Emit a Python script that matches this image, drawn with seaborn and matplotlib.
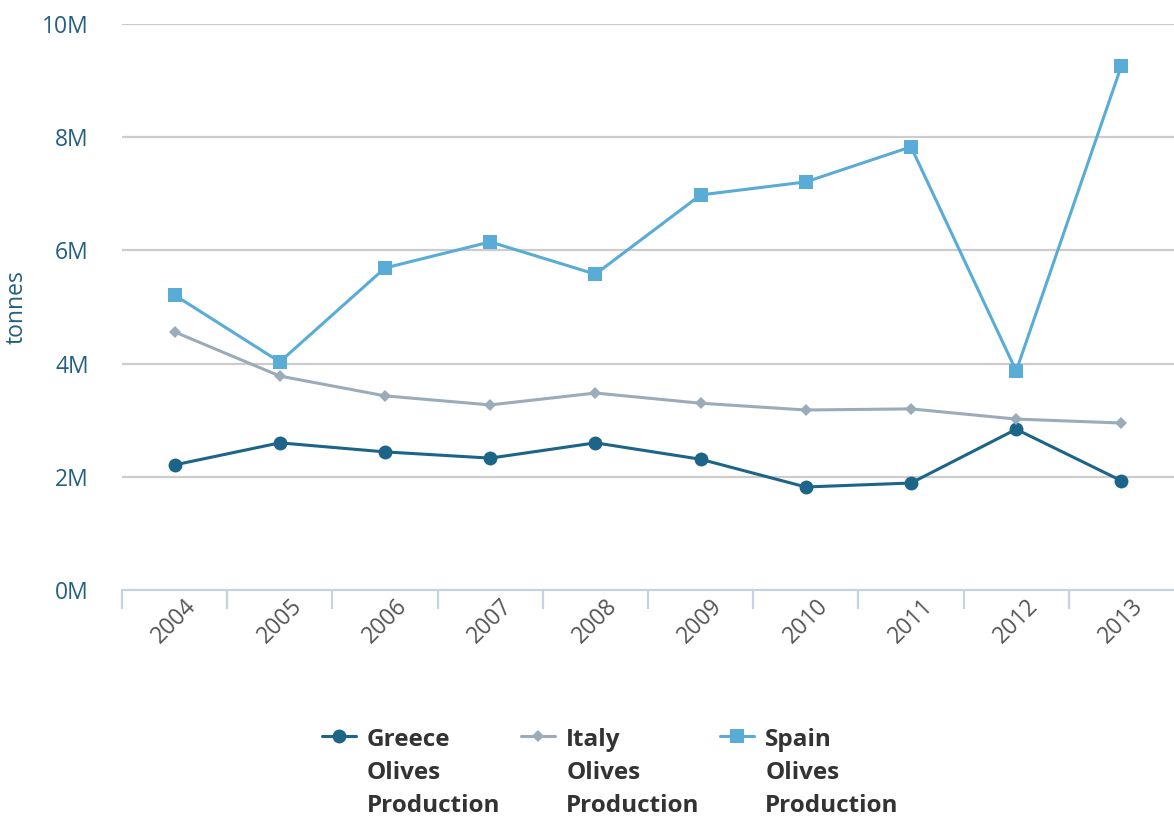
import matplotlib
matplotlib.use("Agg")
import matplotlib.pyplot as plt
import seaborn as sns
import pandas as pd
import numpy as np
from matplotlib.ticker import FixedLocator, FuncFormatter

years = [2004, 2005, 2006, 2007, 2008, 2009, 2010, 2011, 2012, 2013]
greece = [2.21, 2.60, 2.44, 2.33, 2.60, 2.31, 1.82, 1.89, 2.84, 1.93]
italy = [4.56, 3.78, 3.43, 3.27, 3.48, 3.30, 3.18, 3.20, 3.02, 2.95]
spain = [5.21, 4.03, 5.69, 6.15, 5.58, 6.98, 7.21, 7.83, 3.87, 9.26]
series_names = ["Greece Olives Production", "Italy Olives Production", "Spain Olives Production"]
y_ticks = [0, 2, 4, 6, 8, 10]

colors = ["#1c6488", "#9babb9", "#58acd6"]
markers = ["o", "D", "s"]
msizes = [10, 6.5, 9.5]

sns.set_theme(style="white")
plt.rcParams['font.family'] = ['Open Sans', 'DejaVu Sans']

fig = plt.figure(figsize=(11.74, 8.16), dpi=100)
ax = fig.add_axes([122/1174, 1 - 590/816, 1 - 122/1174, (590 - 24)/816])

df = pd.DataFrame({
    "year": years * 3,
    "value": greece + italy + spain,
    "series": [series_names[0]] * 10 + [series_names[1]] * 10 + [series_names[2]] * 10,
})

for i, name in enumerate(series_names):
    sub = df[df["series"] == name]
    sns.lineplot(data=sub, x="year", y="value", ax=ax, color=colors[i],
                 marker=markers[i], markersize=msizes[i], markeredgewidth=0,
                 linewidth=2.2, label=name, zorder=3 + i)

ax.set_xlim(2003.5, 2013.5)
ax.set_ylim(0, 10)
ax.yaxis.set_major_locator(FixedLocator(y_ticks))
ax.yaxis.set_major_formatter(FuncFormatter(lambda v, p: f"{int(v)}M"))
for v in y_ticks[1:]:
    ax.axhline(v, color="#cccccc", linewidth=1.6, zorder=1)

for s in ["top", "right", "left"]:
    ax.spines[s].set_visible(False)
ax.spines["bottom"].set_color("#c5d3e0")
ax.spines["bottom"].set_linewidth(1.6)

ax.set_xticks(years)
ax.set_xticklabels([str(y) for y in years], rotation=45, ha="center",
                   color="#555555", fontsize=16.5)
ax.xaxis.set_minor_locator(FixedLocator([y - 0.5 for y in years]))
ax.tick_params(axis="x", which="major", length=0, pad=3)
ax.tick_params(axis="x", which="minor", length=14, width=1.6, color="#c5d3e0", direction="out", bottom=True)
ax.tick_params(axis="y", length=0, pad=24, labelsize=16.5, labelcolor="#24607f")

ax.set_xlabel("")
ax.set_ylabel("tonnes", fontsize=16.5, color="#24607f")
ax.yaxis.set_label_coords(-0.089, 0.5)

ax.get_legend().remove()
handles, labels = ax.get_legend_handles_labels()
wrapped = [l.replace(" ", "\n") for l in labels]
leg = fig.legend(handles, wrapped, loc="upper center", bbox_to_anchor=(0.52, 0.12),
                 ncol=3, frameon=False, handlelength=1.4,
                 columnspacing=0.85, handletextpad=0.45, borderaxespad=0.0,
                 prop={"weight": "bold", "size": 17.5})
for t in leg.get_texts():
    t.set_color("#333333")
    t.set_linespacing(1.5)
try:
    for col in leg._legend_handle_box.get_children():
        for item in col.get_children():
            item.align = "top"
except Exception:
    pass

fig.savefig("out.png", dpi=100)
